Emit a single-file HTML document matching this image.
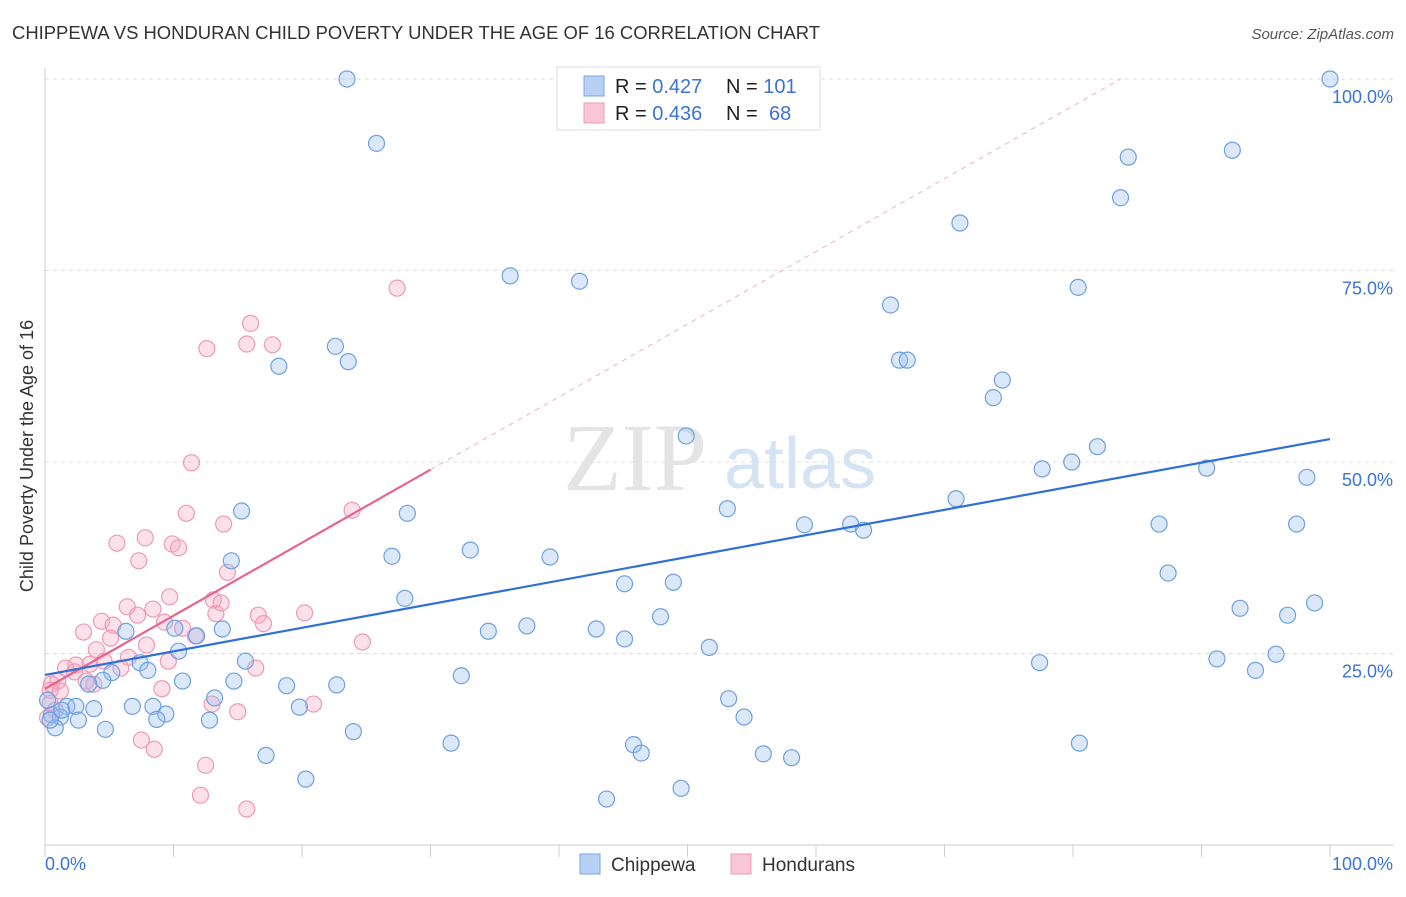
<!DOCTYPE html>
<html><head><meta charset="utf-8"><style>
body{margin:0;background:#fff;font-family:"Liberation Sans",sans-serif;}
svg text{font-family:"Liberation Sans",sans-serif;}
</style></head><body>
<svg id="chart" width="1406" height="892">
<text x="12" y="39" font-size="18" fill="#333" textLength="808" lengthAdjust="spacingAndGlyphs">CHIPPEWA VS HONDURAN CHILD POVERTY UNDER THE AGE OF 16 CORRELATION CHART</text>
<text x="1394" y="39" font-size="15" fill="#555" text-anchor="end" font-style="italic">Source: ZipAtlas.com</text>
<g id="grid"></g>
<text x="635" y="490" font-size="96" fill="#e4e4e4" text-anchor="middle" style="font-family:'Liberation Serif',serif">ZIP</text>
<text x="800" y="488" font-size="72" fill="#d5e3f3" text-anchor="middle">atlas</text>
<text transform="translate(33,456) rotate(-90)" font-size="18" fill="#333" text-anchor="middle">Child Poverty Under the Age of 16</text>
<g id="marks"></g>
<g>
<rect x="557" y="67" width="263" height="63" fill="#fff" stroke="#ddd"/>
<rect x="584" y="76" width="20" height="20" fill="#b7d0f3" stroke="#7aa6e4"/>
<rect x="584" y="103" width="20" height="20" fill="#f8c6d6" stroke="#ee99b6"/>
<text x="615" y="93" font-size="20" fill="#222">R = <tspan fill="#3b74d1">0.427</tspan></text>
<text x="726" y="93" font-size="20" fill="#222">N = <tspan fill="#3b74d1">101</tspan></text>
<text x="615" y="120" font-size="20" fill="#222">R = <tspan fill="#3b74d1">0.436</tspan></text>
<text x="726" y="120" font-size="20" fill="#222">N = <tspan fill="#3b74d1" x="769">68</tspan></text>
</g>
<g>
<rect x="580" y="854" width="20" height="20" fill="#b7d0f3" stroke="#7aa6e4"/>
<text x="611" y="871" font-size="19" fill="#333">Chippewa</text>
<rect x="731" y="854" width="20" height="20" fill="#f8c6d6" stroke="#ee99b6"/>
<text x="762" y="871" font-size="19" fill="#333">Hondurans</text>
</g>
</svg>
<script>
const xTickVals=[0,10,20,30,40,50,60,70,80,90,100];
const yTickVals=[25,50,75,100];
const yTickLabels=["25.0%","50.0%","75.0%","100.0%"];
const xEndLabels=["0.0%","100.0%"];
const blueX=[23.5,25.8,100,92.4,84.3,83.7,71.2,36.2,41.6,80.4,65.8,22.6,23.6,18.2,66.5,67.1,74.5,73.8,49.9,81.9,79.9,77.6,90.4,98.2,70.9,53.1,15.3,28.2,59.1,62.7,63.7,86.7,97.4,33.1,39.3,27.0,14.5,87.4,45.1,48.9,28.0,93.0,98.8,96.7,47.9,37.5,34.5,42.9,45.1,6.3,10.1,13.8,11.8,51.7,10.4,15.6,7.4,8.0,77.4,91.2,95.8,94.2,32.4,5.2,4.5,10.7,14.7,3.4,18.8,22.7,13.2,53.2,6.8,8.4,19.8,3.8,1.7,2.4,54.4,9.4,8.7,12.8,1.2,0.5,2.6,4.7,0.8,24.0,31.6,80.5,45.8,46.4,17.2,55.9,58.1,20.3,49.5,43.7,0.4,1.3,0.2];
const blueY=[100,91.6,100,90.7,89.8,84.5,81.2,74.3,73.6,72.8,70.5,65.1,63.1,62.5,63.3,63.3,60.7,58.4,53.4,52.0,50.0,49.1,49.2,48.0,45.2,43.9,43.6,43.3,41.8,41.9,41.1,41.9,41.9,38.5,37.6,37.7,37.1,35.5,34.1,34.3,32.2,30.9,31.6,30.0,29.8,28.6,27.9,28.2,26.9,27.9,28.3,28.2,27.3,25.8,25.3,24.0,23.8,22.8,23.8,24.3,24.9,22.8,22.1,22.5,21.5,21.4,21.4,21.0,20.8,20.9,19.2,19.1,18.1,18.1,18.0,17.8,18.1,18.1,16.7,17.1,16.4,16.3,16.7,17.0,16.3,15.1,15.3,14.8,13.3,13.3,13.1,12.0,11.7,11.9,11.4,8.6,7.4,6.0,16.3,17.6,18.9];
const pinkX=[27.4,16.0,15.7,17.7,12.6,11.4,11.0,23.9,13.9,7.8,5.6,9.9,10.4,7.3,14.2,9.7,13.1,13.7,6.4,8.4,7.2,16.6,20.2,13.3,4.4,5.3,17.0,9.3,3.0,10.7,5.1,11.7,7.9,4.0,6.5,24.7,3.5,2.4,1.6,4.6,5.9,9.6,16.4,2.3,1.0,0.5,3.8,3.2,1.2,0.4,9.1,13.0,15.0,20.9,0.4,0.8,7.5,8.5,12.5,12.1,15.7,0.2];
const pinkY=[72.7,68.1,65.4,65.3,64.8,49.9,43.3,43.7,41.9,40.1,39.4,39.3,38.8,37.1,35.6,32.4,32.0,31.6,31.1,30.8,30.0,30.0,30.3,30.2,29.2,28.7,28.9,29.1,27.8,28.3,27.0,27.3,26.1,25.5,24.5,26.5,23.6,23.5,23.1,24.0,23.1,24.0,23.1,22.6,21.4,21.0,21.0,21.4,20.1,20.2,20.4,18.4,17.4,18.4,18.5,17.6,13.7,12.5,10.4,6.5,4.7,16.6];
const blueTrend=[[0,22.2],[100,53.0]];
const pinkTrend=[[0,20.4],[30,49.0]];
const pinkDash=[[30,49.0],[83.7,100]];

const NS="http://www.w3.org/2000/svg";
const X0=45,X1=1330,Y0=845,Y100=79;
function sx(v){return X0+(X1-X0)*v/100;}
function sy(v){return Y0-(Y0-Y100)*v/100;}
function mk(tag,attrs,parent){const e=document.createElementNS(NS,tag);for(const k in attrs)e.setAttribute(k,attrs[k]);parent.appendChild(e);return e;}
const grid=document.getElementById('grid');
const marks=document.getElementById('marks');
yTickVals.forEach((v,i)=>{
  const l=mk('line',{x1:X0,x2:1394,y1:sy(v),y2:sy(v),stroke:'#ddd','stroke-dasharray':'4,4'},grid);
  
  
  const t=mk('text',{x:1393,y:sy(v)+24,'font-size':18,fill:'#3b74d1','text-anchor':'end'},grid);
  t.textContent=yTickLabels[i];
  
  
});
const ya=mk('line',{x1:X0,x2:X0,y1:68,y2:Y0,stroke:'#ccc'},grid);


const xa=mk('line',{x1:X0,x2:1394,y1:Y0,y2:Y0,stroke:'#ccc'},grid);


xTickVals.forEach(v=>{
  const t=mk('line',{x1:sx(v),x2:sx(v),y1:Y0,y2:Y0+12,stroke:'#ccc'},grid);
  
  
});
const xl0=mk('text',{x:45,y:870,'font-size':18,fill:'#3b74d1'},grid);xl0.textContent=xEndLabels[0];


const xl1=mk('text',{x:1393,y:870,'font-size':18,fill:'#3b74d1','text-anchor':'end'},grid);xl1.textContent=xEndLabels[1];


pinkX.forEach((x,i)=>{
  const c=mk('circle',{cx:sx(x),cy:sy(pinkY[i]),r:8,fill:'rgba(246,170,196,0.35)',stroke:'#ee99b6','stroke-width':1.2},marks);
  
  
});
blueX.forEach((x,i)=>{
  const c=mk('circle',{cx:sx(x),cy:sy(blueY[i]),r:8,fill:'rgba(150,190,240,0.35)',stroke:'#6fa0e0','stroke-width':1.2},marks);
  
  
});
const pd=mk('line',{x1:sx(pinkDash[0][0]),y1:sy(pinkDash[0][1]),x2:sx(pinkDash[1][0]),y2:sy(pinkDash[1][1]),stroke:'#f0b0c4','stroke-width':1,'stroke-dasharray':'5,5'},marks);


const pt=mk('line',{x1:sx(pinkTrend[0][0]),y1:sy(pinkTrend[0][1]),x2:sx(pinkTrend[1][0]),y2:sy(pinkTrend[1][1]),stroke:'#e8648c','stroke-width':2.2},marks);


const bt=mk('line',{x1:sx(blueTrend[0][0]),y1:sy(blueTrend[0][1]),x2:sx(blueTrend[1][0]),y2:sy(blueTrend[1][1]),stroke:'#2f6fd6','stroke-width':2.2},marks);


</script>
</body></html>
